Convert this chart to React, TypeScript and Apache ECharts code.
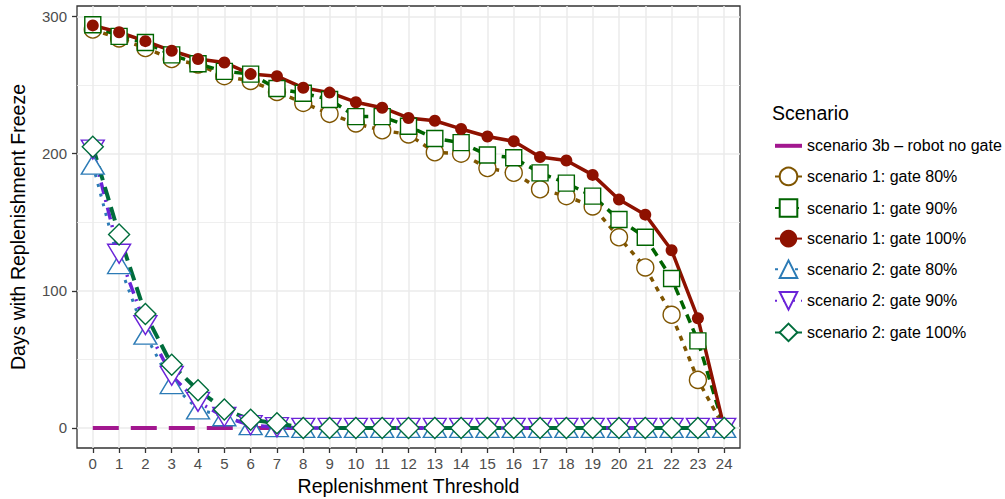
import React, { useEffect, useRef } from "react";
import * as echarts from "echarts";

const thresholds = [0, 1, 2, 3, 4, 5, 6, 7, 8, 9, 10, 11, 12, 13, 14, 15, 16, 17, 18, 19, 20, 21, 22, 23, 24];

const scenario3b = [0, 0, 0, 0, 0, 0, 0, 0, 0, 0, 0, 0, 0, 0, 0, 0, 0, 0, 0, 0, 0, 0, 0, 0, 0];
const s1Gate80 = [290.5, 284, 277, 269, 265, 256.5, 253, 245, 237, 229, 222, 217, 214, 201, 200, 189.5, 186, 174, 169, 161.5, 139, 117, 82.5, 35, 0];
const s1Gate90 = [294, 285.5, 281, 272, 265.5, 260, 258, 247.5, 244, 239.5, 227, 227, 220, 211, 208, 199, 197, 186, 178.5, 169, 152, 139, 109, 63.5, 0];
const s1Gate100 = [293.5, 288.5, 282, 275, 269, 266.5, 258, 256.5, 248, 244.5, 237.5, 233.5, 226, 224, 218, 212.5, 209, 197.5, 195, 184.5, 166.5, 155.5, 129.5, 80, 0];
const s2Gate80 = [192, 119.5, 68, 32, 13.5, 8.5, 2, 0.5, 0, 0, 0, 0, 0, 0, 0, 0, 0, 0, 0, 0, 0, 0, 0, 0, 0];
const s2Gate90 = [203, 127, 75, 38, 19, 8, 2, 0.5, 0, 0, 0, 0, 0, 0, 0, 0, 0, 0, 0, 0, 0, 0, 0, 0, 0];
const s2Gate100 = [205, 141, 83, 46, 27.5, 13.5, 6, 3.4, 0, 0, 0, 0, 0, 0, 0, 0, 0, 0, 0, 0, 0, 0, 0, 0, 0];

const seriesNames = [
  "scenario 3b \u2013 robot no gate",
  "scenario 1: gate 80%",
  "scenario 1: gate 90%",
  "scenario 1: gate 100%",
  "scenario 2: gate 80%",
  "scenario 2: gate 90%",
  "scenario 2: gate 100%",
];

const yTicks = [0, 100, 200, 300];
const yMinor = [50, 150, 250];

const FONT = "Liberation Sans, Arial, Helvetica, sans-serif";

function pairs(values: number[]) {
  return thresholds.map((t, i) => [t, values[i]]);
}

export default function App() {
  const ref = useRef<HTMLDivElement>(null);

  useEffect(() => {
    const chart = echarts.init(ref.current!, null, { renderer: "svg" });

    const lineSeries = (
      name: string,
      values: number[],
      color: string,
      dash: number[] | "solid",
      width: number,
      symbol: string,
      symbolSize: number | number[],
      filled: boolean,
      rotate = 0
    ) => ({
      type: "line",
      name,
      data: pairs(values),
      color,
      silent: true,
      emphasis: { disabled: true },
      lineStyle: { color, width, type: dash, cap: "butt" },
      symbol,
      symbolSize,
      symbolRotate: rotate,
      showSymbol: symbol !== "none",
      itemStyle: filled
        ? { color, borderColor: color, borderWidth: 0 }
        : { color: "#ffffff", borderColor: color, borderWidth: 1.4 },
    });

    const gridLine = { color: "#EBEBEB", type: "solid" as const };

    const legendData = seriesNames.map((name, i) =>
      i === 0
        ? {
            name,
            itemStyle: { color: "transparent", borderColor: "transparent", borderWidth: 0, opacity: 0 },
            lineStyle: { width: 4, type: "solid", color: "#A2178F" },
          }
        : { name }
    );

    const option: any = {
      animation: false,
      backgroundColor: "#ffffff",
      textStyle: { fontFamily: FONT },
      grid: {
        left: 77,
        right: 265,
        top: 6,
        bottom: 51,
        show: true,
        borderColor: "#333333",
        borderWidth: 1.3,
        backgroundColor: "transparent",
      },
      xAxis: {
        type: "value",
        min: -0.6,
        max: 24.6,
        axisLine: { show: false, onZero: false },
        splitLine: { show: false },
        axisTick: {
          show: true,
          customValues: thresholds,
          length: 5,
          lineStyle: { color: "#333333", width: 1.3 },
        },
        axisLabel: {
          customValues: thresholds,
          color: "#4D4D4D",
          fontSize: 15,
          fontFamily: FONT,
          margin: 8,
        },
      },
      yAxis: {
        type: "value",
        min: -14.65,
        max: 307.65,
        axisLine: { show: false, onZero: false },
        splitLine: { show: false },
        axisTick: {
          show: true,
          customValues: yTicks,
          length: 5,
          lineStyle: { color: "#333333", width: 1.3 },
        },
        axisLabel: {
          customValues: yTicks,
          color: "#4D4D4D",
          fontSize: 15,
          fontFamily: FONT,
          margin: 10,
        },
      },
      legend: {
        orient: "vertical",
        left: 773,
        top: 137,
        itemWidth: 27,
        itemHeight: 22,
        itemGap: 12,
        padding: 0,
        selectedMode: false,
        textStyle: { fontSize: 16, color: "#000000", fontFamily: FONT },
        data: legendData,
      },
      graphic: [
        {
          type: "text",
          left: 772,
          top: 103,
          style: { text: "Scenario", fontSize: 19.5, fill: "#000000", fontFamily: FONT },
        },
        {
          type: "text",
          x: 408.5,
          y: 486,
          style: {
            text: "Replenishment Threshold",
            fontSize: 19.5,
            fill: "#000000",
            fontFamily: FONT,
            align: "center",
            verticalAlign: "middle",
          },
        },
        {
          type: "text",
          x: 18,
          y: 227,
          rotation: Math.PI / 2,
          style: {
            text: "Days with Replenishment Freeze",
            fontSize: 19.5,
            fill: "#000000",
            fontFamily: FONT,
            align: "center",
            verticalAlign: "middle",
          },
        },
      ],
      series: [
        {
          type: "line",
          name: "__grid",
          data: [],
          silent: true,
          z: 1,
          markLine: {
            silent: true,
            symbol: ["none", "none"],
            label: { show: false },
            emphasis: { disabled: true },
            animation: false,
            z: 1,
            data: [
              ...yMinor.map((v) => ({ yAxis: v, lineStyle: { ...gridLine, width: 0.8 } })),
              ...yTicks.map((v) => ({ yAxis: v, lineStyle: { ...gridLine, width: 1.5 } })),
              ...thresholds.map((v) => ({ xAxis: v, lineStyle: { ...gridLine, width: 1.5 } })),
            ],
          },
        },
        lineSeries(seriesNames[0], scenario3b, "#A2178F", [26, 12], 4, "none", 0, false),
        lineSeries(seriesNames[1], s1Gate80, "#7F5500", [5, 6], 3.5, "circle", 17, false),
        lineSeries(seriesNames[2], s1Gate90, "#006400", [9, 6], 3.5, "rect", 16, false),
        lineSeries(seriesNames[3], s1Gate100, "#8E1100", "solid", 3.5, "circle", 12, true),
        lineSeries(seriesNames[4], s2Gate80, "#2C7BB6", [3, 7], 3, "triangle", [23, 19], false),
        lineSeries(seriesNames[5], s2Gate90, "#6B24D8", [2, 6, 12, 6], 3.5, "triangle", [23, 19], false, 180),
        lineSeries(seriesNames[6], s2Gate100, "#006D3C", [14, 7], 4, "diamond", 21, false),
      ],
    };

    chart.setOption(option);
    return () => chart.dispose();
  }, []);

  return (
    <div
      ref={ref}
      style={{ position: "fixed", left: 0, top: 0, width: 1005, height: 499, background: "#ffffff" }}
    />
  );
}
